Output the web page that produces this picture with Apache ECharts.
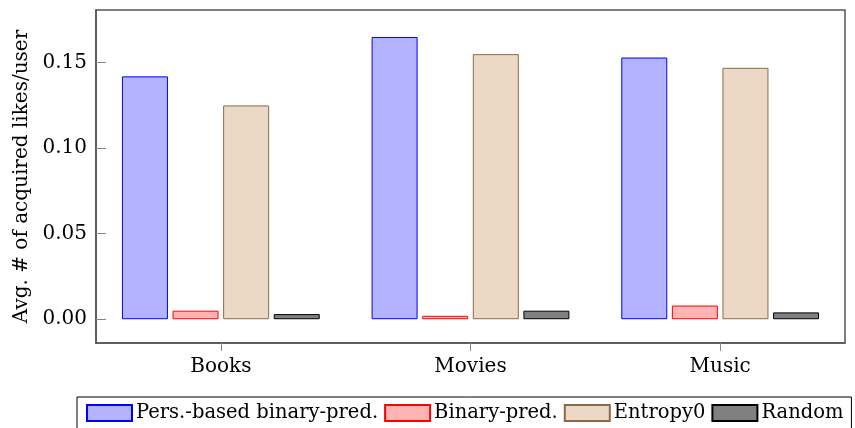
<!DOCTYPE html>
<html>
<head>
<meta charset="utf-8">
<script src="https://cdn.jsdelivr.net/npm/echarts@6/dist/echarts.min.js"></script>
<style>
  html, body { margin: 0; padding: 0; background: #fff; }
  #chart { width: 855px; height: 428px; }
</style>
</head>
<body>
<div id="chart"></div>
<script>
// Domains on the x axis
const categories = ['Books', 'Movies', 'Music'];

// Average number of acquired likes per user, one array per strategy
const persBased = [0.142, 0.165, 0.153];
const binaryPred = [0.005, 0.002, 0.008];
const entropy0 = [0.125, 0.155, 0.147];
const randomPick = [0.003, 0.005, 0.004];

// Tick values on the y axis
const yTicks = [0, 0.05, 0.10, 0.15];

const FONT = 'DejaVu Serif';
const FS = 20;

function barSeries(name, data, fill, stroke) {
  return {
    name: name,
    type: 'bar',
    data: data,
    barWidth: 46,
    barGap: '10%',
    itemStyle: { color: fill, borderColor: stroke, borderWidth: 1 }
  };
}

const chart = echarts.init(document.getElementById('chart'), null, { renderer: 'canvas' });

chart.setOption({
  animation: false,
  backgroundColor: '#fff',
  textStyle: { fontFamily: FONT, color: '#000' },
  grid: {
    left: 96, right: 10, top: 10, bottom: 85,
    show: true, borderColor: '#555', borderWidth: 1.5, backgroundColor: 'transparent'
  },
  legend: {
    left: 77, top: 397,
    width: 800,
    padding: [6, 8, 12, 9],
    itemGap: 6,
    itemWidth: 45, itemHeight: 16,
    icon: 'rect',
    borderColor: '#000', borderWidth: 1,
    textStyle: { fontFamily: FONT, fontSize: 19.5, color: '#000', padding: [0, 0, 0, -1] },
    data: ['Pers.-based binary-pred.', 'Binary-pred.', 'Entropy0', 'Random']
  },
  xAxis: {
    type: 'category',
    data: categories,
    boundaryGap: true,
    axisLine: { show: true, onZero: false, lineStyle: { color: '#555', width: 1.5 } },
    axisTick: { show: true, alignWithLabel: true, inside: false, length: 8, lineStyle: { color: '#888' } },
    axisLabel: { fontFamily: FONT, fontSize: FS, color: '#000', margin: 14 },
    splitLine: { show: false }
  },
  yAxis: {
    type: 'value',
    min: -0.0139,
    max: 0.1808,
    name: 'Avg. # of acquired likes/user',
    nameLocation: 'middle',
    nameGap: 64,
    nameTextStyle: { fontFamily: FONT, fontSize: FS, color: '#000' },
    axisLine: { show: true, lineStyle: { color: '#555', width: 1.5 } },
    axisTick: { show: true, inside: true, length: 10, customValues: yTicks, lineStyle: { color: '#888' } },
    axisLabel: {
      fontFamily: FONT, fontSize: FS, color: '#000', margin: 9,
      customValues: yTicks,
      formatter: function (v) { return v.toFixed(2); }
    },
    splitLine: { show: false }
  },
  series: [
    barSeries('Pers.-based binary-pred.', persBased, '#b3b3ff', '#0000ff'),
    barSeries('Binary-pred.', binaryPred, '#ffb3b3', '#ff0000'),
    barSeries('Entropy0', entropy0, '#ebd9c6', '#8c6a48'),
    barSeries('Random', randomPick, '#808080', '#000000')
  ]
});
</script>
</body>
</html>
